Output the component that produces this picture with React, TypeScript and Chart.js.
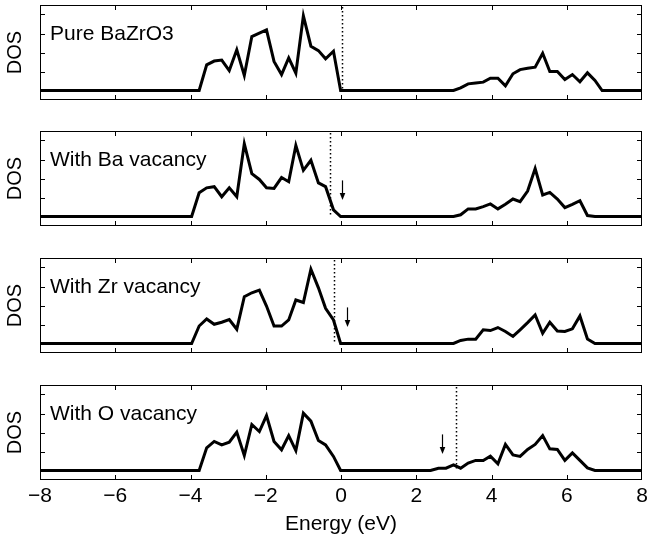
import React, { useEffect, useRef } from 'react';
import { Chart, registerables } from 'chart.js';

Chart.register(...registerables);

// Energy grids (eV) of the valence and conduction band samples
const vbEnergy = [-3.97, -3.77, -3.57, -3.37, -3.17, -2.97, -2.77, -2.57, -2.37, -2.17, -1.98, -1.78, -1.58, -1.39, -1.2, -1.0, -0.8, -0.6, -0.41, -0.2, -0.01];
const cbEnergy = [2.38, 2.59, 2.79, 2.99, 3.18, 3.38, 3.58, 3.78, 3.97, 4.17, 4.37, 4.57, 4.76, 4.96, 5.16, 5.36, 5.55, 5.75, 5.95, 6.15, 6.35, 6.55, 6.75, 6.94];

// DOS values (arbitrary units)
const pureVB = [0, 0, 1.35, 1.55, 1.6, 1.05, 2.14, 0.79, 2.84, 3.02, 3.19, 1.53, 0.84, 1.72, 0.91, 3.93, 2.33, 2.1, 1.67, 2.07, 0];
const pureCB = [0, 0, 0, 0, 0.14, 0.35, 0.4, 0.44, 0.65, 0.65, 0.25, 0.88, 1.1, 1.17, 1.23, 1.96, 1.0, 1.0, 0.58, 0.84, 0.46, 0.93, 0.53, 0];

const baVB = [0, 1.25, 1.51, 1.57, 1.04, 1.51, 1.04, 3.83, 2.26, 1.95, 1.51, 1.48, 2.05, 1.83, 3.74, 2.43, 2.96, 1.77, 1.57, 0.35, 0];
const baCB = [0, 0, 0, 0, 0.09, 0.4, 0.4, 0.52, 0.66, 0.4, 0.64, 0.92, 0.78, 1.34, 2.52, 1.13, 1.27, 0.92, 0.47, 0.64, 0.83, 0.05, 0, 0];

const zrVB = [0, 0.92, 1.29, 1.01, 1.12, 1.26, 0.75, 2.46, 2.67, 2.81, 1.97, 0.92, 0.92, 1.24, 2.29, 2.16, 3.91, 2.93, 1.85, 1.24, 0];
const zrCB = [0, 0, 0, 0, 0.16, 0.23, 0.23, 0.72, 0.68, 0.84, 0.63, 0.37, 0.72, 1.1, 1.5, 0.54, 1.12, 0.66, 0.63, 0.77, 1.45, 0.24, 0, 0];

const oVB = [0, 0, 1.19, 1.53, 1.35, 1.49, 2.02, 0.79, 2.42, 2.05, 2.89, 1.53, 1.09, 1.84, 1.05, 3.02, 2.6, 1.58, 1.35, 0.74, 0];
const oCB = [0, 0.12, 0.12, 0.3, 0.12, 0.39, 0.53, 0.53, 0.75, 0.35, 1.37, 0.82, 0.74, 1.11, 1.37, 1.84, 1.14, 1.11, 0.53, 0.93, 0.53, 0.14, 0, 0];

const panelLabels = ['Pure BaZrO3', 'With Ba vacancy', 'With Zr vacancy', 'With O vacancy'];
const panelVB = [pureVB, baVB, zrVB, oVB];
const panelCB = [pureCB, baCB, zrCB, oCB];
const fermiLevels = [0.02, -0.29, -0.18, 3.06];
const arrowEnergies: (number | null)[] = [null, 0.02, 0.15, 2.69];
const arrowTail = 1.9;
const arrowHead = 0.87;

const xMin = -8;
const xMax = 8;
const xStep = 2;
const yMin = -0.5;
const yMax = 4.5;
const yTickValues = [1, 2, 3, 4];

const FONT = '"Liberation Sans", Arial, Helvetica, sans-serif';

const decorPlugin = {
  id: 'panelDecor',
  beforeDatasetsDraw(chart: any, _args: any, opts: any) {
    const { ctx, chartArea: a, scales } = chart;
    const x = scales.x;
    const y = scales.y;
    ctx.save();
    const fx = Math.round(x.getPixelForValue(opts.fermi)) + 0.5;
    ctx.strokeStyle = '#000';
    ctx.lineWidth = 1.5;
    ctx.setLineDash([1.5, 2.5]);
    ctx.beginPath();
    ctx.moveTo(fx, a.top + 2);
    ctx.lineTo(fx, y.getPixelForValue(0));
    ctx.stroke();
    ctx.restore();
  },
  afterDatasetsDraw(chart: any, _args: any, opts: any) {
    const { ctx, chartArea: a, scales } = chart;
    const x = scales.x;
    const y = scales.y;
    ctx.save();
    ctx.strokeStyle = '#000';
    ctx.lineWidth = 1;
    ctx.strokeRect(a.left + 0.5, a.top + 0.5, a.right - a.left - 1, a.bottom - a.top - 1);
    ctx.beginPath();
    for (let v = xMin + xStep; v < xMax; v += xStep) {
      const px = Math.round(x.getPixelForValue(v)) + 0.5;
      ctx.moveTo(px, a.top);
      ctx.lineTo(px, a.top + 5);
      ctx.moveTo(px, a.bottom);
      ctx.lineTo(px, a.bottom - 5);
    }
    for (const v of yTickValues) {
      const py = Math.round(y.getPixelForValue(v)) + 0.5;
      ctx.moveTo(a.left, py);
      ctx.lineTo(a.left + 5, py);
      ctx.moveTo(a.right, py);
      ctx.lineTo(a.right - 5, py);
    }
    ctx.stroke();

    if (opts.arrow !== null && opts.arrow !== undefined) {
      const ax = Math.round(x.getPixelForValue(opts.arrow)) + 0.5;
      const t = y.getPixelForValue(arrowTail);
      const h = y.getPixelForValue(arrowHead);
      ctx.lineWidth = 1.2;
      ctx.beginPath();
      ctx.moveTo(ax, t);
      ctx.lineTo(ax, h - 4);
      ctx.stroke();
      ctx.fillStyle = '#000';
      ctx.beginPath();
      ctx.moveTo(ax - 2.8, h - 7);
      ctx.lineTo(ax + 2.8, h - 7);
      ctx.lineTo(ax, h);
      ctx.closePath();
      ctx.fill();
    }

    ctx.fillStyle = '#000';
    ctx.font = `21px ${FONT}`;
    ctx.textBaseline = 'middle';
    ctx.textAlign = 'left';
    ctx.fillText(opts.label, a.left + 10, a.top + 29);
    ctx.restore();
  },
};

const panelTops = [5, 131, 258, 385];
const areaHeight = 95;

function Panel({ index }: { index: number }) {
  const ref = useRef<HTMLCanvasElement | null>(null);
  const isBottom = index === 3;
  const padTop = 2;
  const canvasTop = panelTops[index] - padTop;
  const canvasHeight = isBottom ? 539 - canvasTop : areaHeight + padTop + 2;

  useEffect(() => {
    if (!ref.current) return;
    const energies = [xMin, ...vbEnergy, ...cbEnergy, xMax];
    const values = [0, ...panelVB[index], ...panelCB[index], 0];
    const pts = energies.map((e, i) => ({ x: e, y: values[i] }));
    const xScale: any = {
      type: 'linear',
      min: xMin,
      max: xMax,
      display: isBottom,
      grid: { display: false, drawTicks: false },
      border: { display: false },
      ticks: {
        stepSize: xStep,
        autoSkip: false,
        maxRotation: 0,
        padding: 4,
        color: '#000',
        font: { size: 21, family: FONT },
        callback: (v: any) => String(v).replace('-', '\u2212'),
      },
      title: {
        display: isBottom,
        text: 'Energy (eV)',
        color: '#000',
        font: { size: 21, family: FONT },
        padding: { top: 0, bottom: 2 },
      },
    };
    if (isBottom) {
      xScale.afterFit = (s: any) => {
        s.height = 59;
        s.paddingLeft = 0;
        s.paddingRight = 0;
      };
    }
    const chart = new Chart(ref.current, {
      type: 'line',
      data: {
        datasets: [
          {
            data: pts,
            borderColor: '#000',
            borderWidth: 3,
            pointRadius: 0,
            tension: 0,
            fill: false,
          },
        ],
      },
      options: {
        animation: false,
        responsive: false,
        devicePixelRatio: 1,
        events: [],
        layout: { padding: { top: padTop, right: 5, bottom: isBottom ? 0 : 2, left: 0 } },
        plugins: {
          legend: { display: false },
          tooltip: { enabled: false },
          panelDecor: {
            label: panelLabels[index],
            fermi: fermiLevels[index],
            arrow: arrowEnergies[index],
          },
        } as any,
        scales: {
          x: xScale,
          y: {
            type: 'linear',
            min: yMin,
            max: yMax,
            grid: { display: false, drawTicks: false },
            border: { display: false },
            ticks: { display: false, stepSize: 1 },
            title: {
              display: true,
              text: 'DOS',
              color: '#000',
              font: { size: 20, family: FONT },
              padding: { top: 3, bottom: 0 },
            },
            afterFit: (s: any) => {
              s.width = 40;
            },
          },
        },
      },
      plugins: [decorPlugin],
    });
    return () => chart.destroy();
  }, [index]);

  return (
    <canvas
      ref={ref}
      width={647}
      height={canvasHeight}
      style={{ position: 'absolute', left: 0, top: canvasTop, width: 647, height: canvasHeight, display: 'block' }}
    />
  );
}

export default function App() {
  return (
    <div
      style={{
        position: 'absolute',
        left: 0,
        top: 0,
        width: 647,
        height: 539,
        overflow: 'hidden',
        background: '#fff',
      }}
    >
      {[0, 1, 2, 3].map((i) => (
        <Panel key={i} index={i} />
      ))}
    </div>
  );
}
